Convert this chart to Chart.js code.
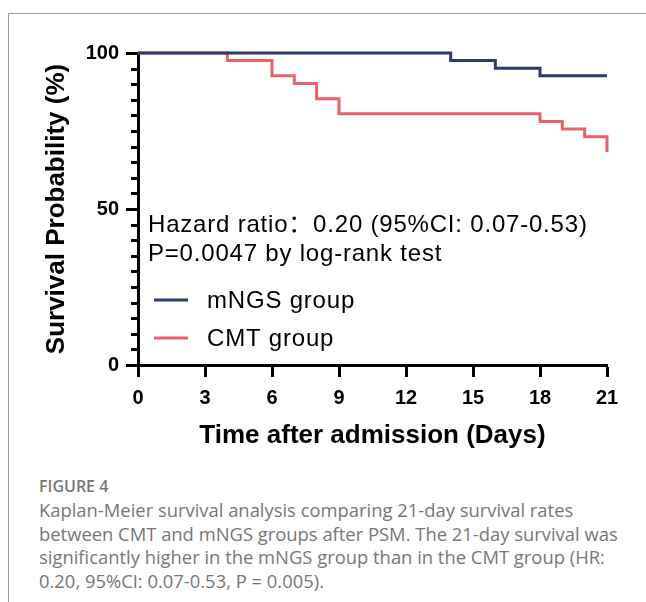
<!DOCTYPE html>
<html>
<head>
<meta charset="utf-8">
<script src="https://cdn.jsdelivr.net/npm/chart.js@4.4.0/dist/chart.umd.min.js"></script>
<style>
  html, body { margin: 0; padding: 0; background: #fff; }
  body { width: 646px; height: 602px; position: relative; overflow: hidden; }
  .frame { position: absolute; left: 8px; top: 13px; right: -10px; bottom: -10px;
           border-top: 1px solid #9a9a9a; border-left: 1px solid #9a9a9a; }
  #km { position: absolute; left: 0; top: 0; }
  .caption { position: absolute; left: 39px; top: 476px; font-family: "Open Sans"; color: #777; }
  .caption .fig { font-size: 16px; font-weight: 600; line-height: 20px; }
  .caption .text { font-size: 18.4px; line-height: 23.5px; white-space: pre; margin-top: 2px; }
</style>
</head>
<body>
<div class="frame"></div>
<canvas id="km" width="646" height="465"></canvas>
<div class="caption">
  <div class="fig">FIGURE 4</div>
  <div class="text">Kaplan-Meier survival analysis comparing 21-day survival rates
between CMT and mNGS groups after PSM. The 21-day survival was
significantly higher in the mNGS group than in the CMT group (HR:
0.20, 95%CI: 0.07-0.53, P = 0.005).</div>
</div>
<script>
// survival curves (days, survival %)
const mngsDays = [0, 14, 16, 18, 21];
const mngsSurvival = [100, 97.56, 95.12, 92.68, 92.68];
const cmtDays = [0, 4, 6, 7, 8, 9, 18, 19, 20, 21];
const cmtSurvival = [100, 97.56, 92.68, 90.24, 85.37, 80.49, 78.05, 75.61, 73.17, 68.29];

const xTicks = [0, 3, 6, 9, 12, 15, 18, 21];
const yMajorTicks = [0, 50, 100];
const yMinorTicks = [5, 10, 15, 20, 25, 30, 35, 40, 45, 55, 60, 65, 70, 75, 80, 85, 90, 95];

const seriesNames = ['mNGS group', 'CMT group'];
const seriesColors = ['#2a3d66', '#e8626c'];
const statLines = ['Hazard ratio\uff1a0.20 (95%CI: 0.07-0.53)', 'P=0.0047 by log-rank test'];

const FONT = '"Liberation Sans", Arial, "Noto Sans CJK SC", sans-serif';

const toPoints = (xs, ys) => xs.map((x, i) => ({ x: x, y: ys[i] }));

// minor y ticks, stats text and legend inside the plot
const kmExtras = {
    id: 'kmExtras',
    afterDraw(chart) {
        const ctx = chart.ctx;
        const yScale = chart.scales.y;
        const left = chart.chartArea.left;
        ctx.save();
        ctx.strokeStyle = '#000';
        ctx.lineWidth = 3;
        yMinorTicks.forEach(v => {
            const py = Math.round(yScale.getPixelForValue(v)) + 0.5;
            ctx.beginPath();
            ctx.moveTo(left - 7, py);
            ctx.lineTo(left, py);
            ctx.stroke();
        });

        ctx.fillStyle = '#000';
        ctx.font = '24px ' + FONT;
        ctx.letterSpacing = '0.8px';
        ctx.textBaseline = 'alphabetic';
        ctx.fillText(statLines[0], 148, 232);
        ctx.fillText(statLines[1], 148, 261);

        const legendY = [300, 338];
        chart.data.datasets.forEach((ds, i) => {
            ctx.strokeStyle = ds.borderColor;
            ctx.lineWidth = 3;
            ctx.beginPath();
            ctx.moveTo(154, legendY[i]);
            ctx.lineTo(188, legendY[i]);
            ctx.stroke();
            ctx.fillText(ds.label, 207, legendY[i] + 8);
        });
        ctx.restore();
    }
};

new Chart(document.getElementById('km'), {
    type: 'line',
    data: {
        datasets: [
            {
                label: seriesNames[0],
                data: toPoints(mngsDays, mngsSurvival),
                borderColor: seriesColors[0],
                borderWidth: 3,
                stepped: true,
                pointRadius: 0,
                fill: false,
                clip: false
            },
            {
                label: seriesNames[1],
                data: toPoints(cmtDays, cmtSurvival),
                borderColor: seriesColors[1],
                borderWidth: 3,
                stepped: true,
                pointRadius: 0,
                fill: false,
                clip: false
            }
        ]
    },
    options: {
        responsive: false,
        animation: false,
        layout: {
            padding: { top: 53, right: 39, left: 0, bottom: 0 }
        },
        plugins: {
            legend: { display: false },
            tooltip: { enabled: false }
        },
        scales: {
            x: {
                type: 'linear',
                min: 0,
                max: 21,
                afterBuildTicks: s => { s.ticks = xTicks.map(v => ({ value: v })); },
                afterFit: s => { s.height = 100; },
                border: { display: true, color: '#000', width: 3 },
                grid: { drawOnChartArea: false, drawTicks: true, tickLength: 12, tickWidth: 3, tickColor: '#000' },
                ticks: {
                    color: '#000',
                    padding: 9,
                    maxRotation: 0,
                    font: { family: FONT, size: 20, weight: 'bold' }
                },
                title: {
                    display: true,
                    text: 'Time after admission (Days)',
                    color: '#000',
                    font: { family: FONT, size: 26, weight: 'bold' },
                    padding: { top: 0, bottom: 14 }
                }
            },
            y: {
                min: 0,
                max: 100,
                afterBuildTicks: s => { s.ticks = yMajorTicks.map(v => ({ value: v })); },
                afterFit: s => { s.width = 138; },
                border: { display: true, color: '#000', width: 3 },
                grid: { drawOnChartArea: false, drawTicks: true, tickLength: 12, tickWidth: 3, tickColor: '#000' },
                ticks: {
                    color: '#000',
                    padding: 7,
                    font: { family: FONT, size: 20, weight: 'bold' }
                },
                title: {
                    display: true,
                    text: 'Survival Probability (%)',
                    color: '#000',
                    font: { family: FONT, size: 26, weight: 'bold' },
                    padding: { top: 41, bottom: 0 }
                }
            }
        }
    },
    plugins: [kmExtras]
});
</script>
</body>
</html>
